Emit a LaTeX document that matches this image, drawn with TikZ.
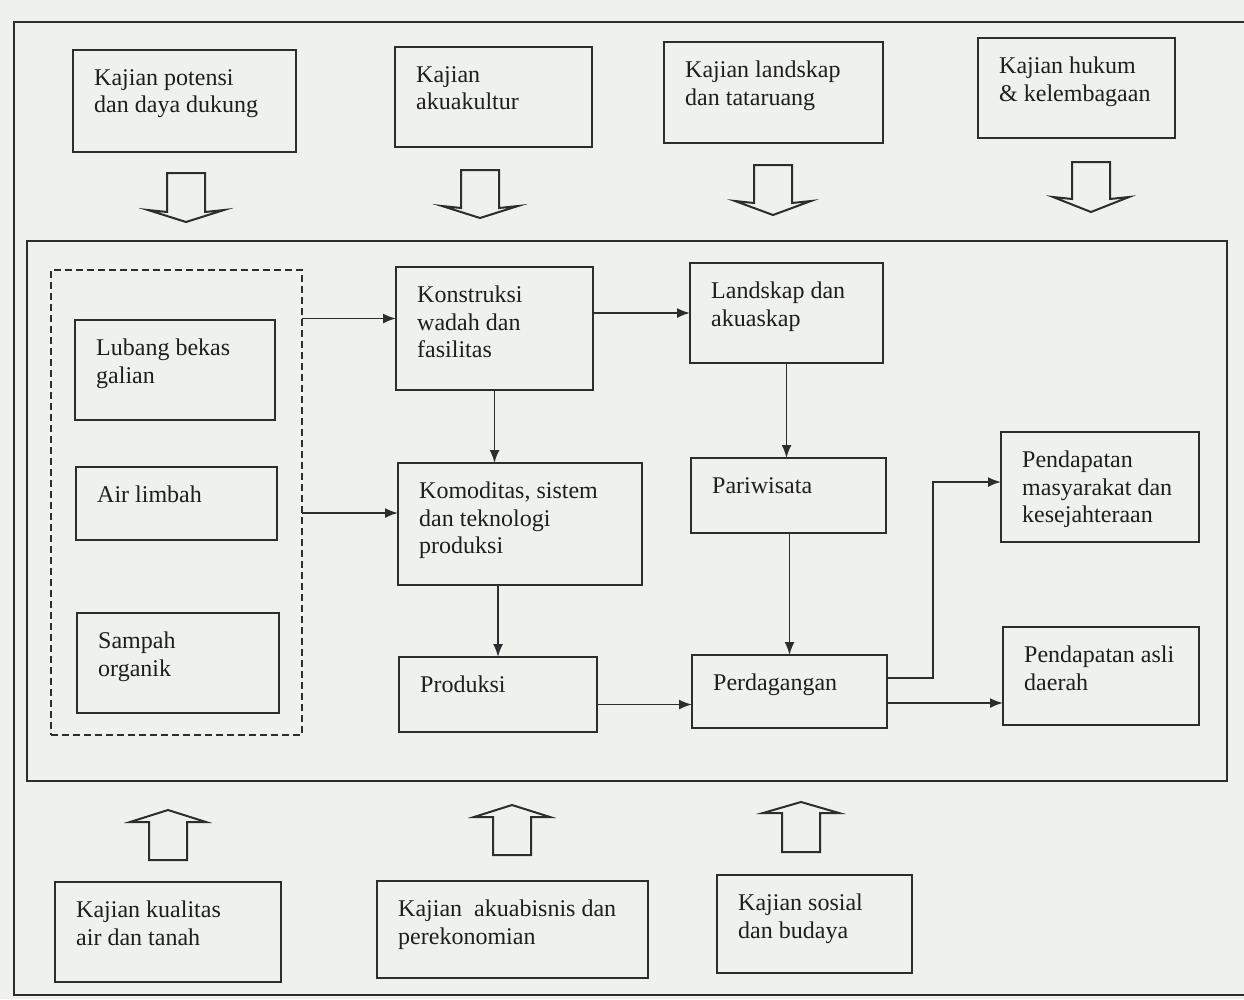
\documentclass[tikz,border=0pt]{standalone}
\usepackage{fontspec}
\setmainfont{Liberation Serif}
\usetikzlibrary{arrows.meta,calc}
\definecolor{ink}{RGB}{45,45,45}
\definecolor{txtink}{RGB}{30,30,30}
\definecolor{paper}{RGB}{239,241,237}
\tikzset{
  box/.style={draw=ink, line width=2pt, anchor=north west, inner sep=0pt, outer sep=0pt},
  txt/.style={anchor=north west, align=left, inner sep=0pt, text=txtink, font=\fontsize{24}{27.5}\selectfont},
  arr/.style={draw=ink, line width=1.8pt, -{Latex[length=13pt,width=10pt]}},
  hollow/.style={draw=ink, line width=2pt, line join=miter},
  frame/.style={draw=ink, line width=2.2pt},
  dashbox/.style={draw=ink, line width=2pt, dash pattern=on 7pt off 4pt, anchor=north west, inner sep=0pt, outer sep=0pt},
}
\newcommand\mybx[6]{%
  \node[box, minimum width=#4pt, minimum height=#5pt] (#1) at (#2,#3) {};
  \node[txt] (#1t) at ([shift={(21pt,-19pt)}]#1.north west) {#6};
}
\newcommand\hdown[4]{%
  \draw[hollow] (#1-19,#2) -- (#1-19,#3) -- (#1-38,#3-2) -- (#1,#4) -- (#1+38,#3-2) -- (#1+19,#3) -- (#1+19,#2) -- cycle;
}
\newcommand\hup[4]{%
  \draw[hollow] (#1-19,#2) -- (#1-19,#3) -- (#1-38,#3) -- (#1,#4) -- (#1+38,#3) -- (#1+19,#3) -- (#1+19,#2) -- cycle;
}
\begin{document}
\begin{tikzpicture}[x=1pt,y=-1pt]
\useasboundingbox (0,0) rectangle (1244,999);
\fill[paper] (0,0) rectangle (1244,999);
% outer frame
\draw[frame] (1244,22) -- (14,22) -- (14,995) -- (1244,995);
% inner frame
\draw[frame] (27,241) rectangle (1227,781);
% dashed group
\node[dashbox, minimum width=251pt, minimum height=465pt] (dash) at (51,270) {};
% top study boxes
\mybx{potensi}{73}{50}{223}{102}{Kajian potensi\\dan daya dukung}
\mybx{akua}{395}{47}{197}{100}{Kajian\\akuakultur}
\mybx{landsk}{664}{42}{219}{101}{Kajian landskap\\dan tataruang}
\mybx{hukum}{978}{38}{197}{100}{Kajian hukum\\\& kelembagaan}
% left group
\mybx{lubang}{75}{320}{200}{100}{Lubang bekas\\galian}
\mybx{limbah}{76}{467}{201}{73}{Air limbah}
\mybx{sampah}{77}{613}{202}{100}{Sampah\\organik}
% middle
\mybx{kons}{396}{267}{197}{123}{Konstruksi\\wadah dan\\fasilitas}
\mybx{land}{690}{263}{193}{100}{Landskap dan\\akuaskap}
\mybx{komo}{398}{463}{244}{122}{Komoditas, sistem\\dan teknologi\\produksi}
\mybx{pari}{691}{458}{195}{75}{Pariwisata}
\mybx{pm}{1001}{432}{198}{110}{Pendapatan\\masyarakat dan\\kesejahteraan}
\mybx{prod}{399}{657}{198}{75}{Produksi}
\mybx{perd}{692}{655}{195}{73}{Perdagangan}
\mybx{pa}{1003}{627}{196}{98}{Pendapatan asli\\daerah}
% bottom study boxes
\mybx{kual}{55}{882}{226}{100}{Kajian kualitas\\air dan tanah}
\mybx{bisnis}{377}{881}{271}{97}{Kajian\ \ akuabisnis dan\\perekonomian}
\mybx{sosial}{717}{875}{195}{98}{Kajian sosial\\dan budaya}
% hollow arrows
\hdown{186}{173}{212}{222}
\hdown{480}{170}{208}{218}
\hdown{773}{165}{203}{215}
\hdown{1091}{162}{199}{212}
\hup{168}{860}{822}{810}
\hup{512}{855}{817}{805}
\hup{801}{852}{813}{802}
% connectors
\draw[arr] ([yshift=10pt]dash.east |- kons.west) -- ([yshift=10pt]kons.west);
\draw[arr] (kons.east |- land.west) -- (land.west);
\draw[arr] (kons.south) -- (kons.south |- komo.north);
\draw[arr] ([yshift=11pt]dash.east |- komo.west) -- ([yshift=11pt]komo.west);
\draw[arr] (land.south) -- (land.south |- pari.north);
\draw[arr] (prod.north |- komo.south) -- (prod.north);
\draw[arr] (perd.north |- pari.south) -- (perd.north);
\draw[arr] ([yshift=-13pt]perd.west -| prod.east) -- ([yshift=-13pt]perd.west);
\draw[arr] ([yshift=13.5pt]perd.east) -- ++(46,0) |- ([yshift=5pt]pm.west);
\draw[arr] ([yshift=-11.5pt]perd.east) -- ([yshift=-11.5pt]perd.east -| pa.west);
\end{tikzpicture}
\end{document}
